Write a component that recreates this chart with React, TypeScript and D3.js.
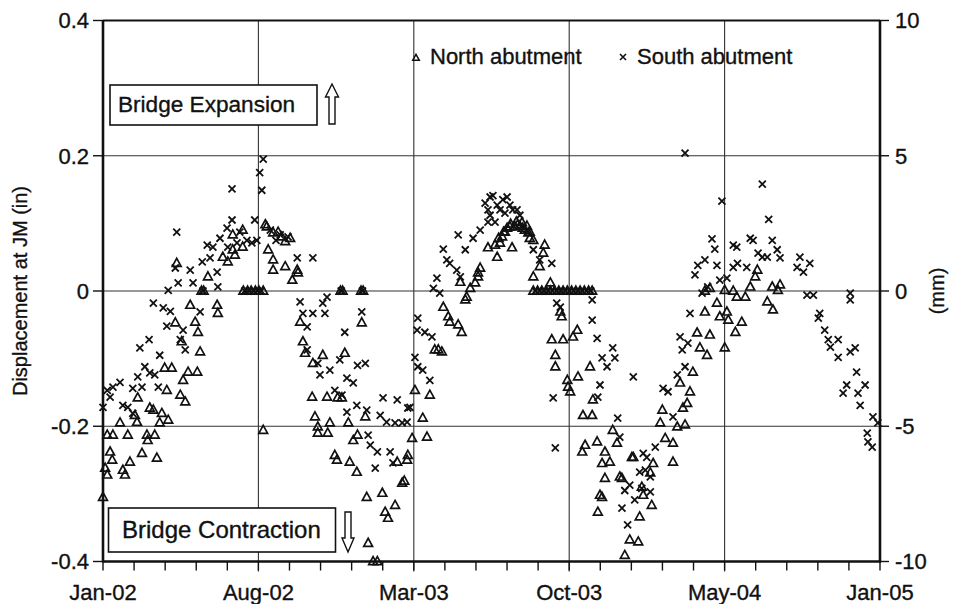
import React from 'react';
import * as d3 from 'd3';

// Horizontal axis: days counted from 1 Jan 2002, running to 1 Jan 2005
const SPAN_DAYS = 1096;
const xTickLabels = ['Jan-02', 'Aug-02', 'Mar-03', 'Oct-03', 'May-04', 'Jan-05'];
const minorPerMajor = 5;

const yTicksIn = [0.4, 0.2, 0, -0.2, -0.4];
const yTickLabelsIn = ['0.4', '0.2', '0', '-0.2', '-0.4'];
const yTicksMm = [10, 5, 0, -5, -10];
const yGridIn = [0.2, 0, -0.2];

const seriesNames = ['North abutment', 'South abutment'];

// [day since 1 Jan 2002, displacement in inches]
const northAbutment: [number, number][] = [
  [0, -0.305], [3, -0.262], [6, -0.272], [6, -0.213], [10, -0.238], [13, -0.25], [14, -0.213], [24, -0.195],
  [28, -0.265], [31, -0.272], [35, -0.213], [38, -0.253], [45, -0.184], [48, -0.194], [49, -0.158], [55, -0.24],
  [62, -0.213], [63, -0.221], [66, -0.173], [71, -0.176], [73, -0.213], [76, -0.247], [80, -0.195], [83, -0.181],
  [87, -0.114], [90, -0.147], [92, -0.191], [97, -0.114], [102, -0.047], [104, 0.041], [109, -0.154], [111, -0.075],
  [113, -0.132], [116, -0.164], [120, -0.12], [123, -0.021], [130, -0.046], [133, -0.12], [134, -0.061], [137, -0.09],
  [139, 0], [142, 0], [148, 0.021], [161, -0.021], [162, -0.033], [169, 0.05], [176, 0.043], [183, 0.083],
  [183, 0.061], [186, 0.053], [197, 0.09], [197, 0.065], [198, 0], [204, 0], [209, 0], [215, 0], [220, 0], [226, 0],
  [226, -0.206], [229, 0.098], [231, 0.095], [233, 0.061], [240, 0.086], [240, 0.046], [240, 0.031], [247, 0.087],
  [252, 0.08], [257, 0.073], [257, 0.036], [264, 0.078], [267, 0.016], [274, 0.031], [275, 0.027], [278, -0.046],
  [282, -0.075], [285, -0.092], [295, -0.157], [296, -0.107], [299, -0.186], [303, -0.201], [303, -0.21], [310, -0.095],
  [316, -0.157], [317, -0.21], [320, -0.195], [327, -0.243], [330, -0.25], [331, -0.158], [335, 0], [337, -0.158],
  [338, 0], [341, -0.092], [346, -0.195], [348, -0.253], [353, -0.221], [358, -0.268], [359, -0.213], [364, 0],
  [365, -0.047], [367, 0], [370, -0.186], [372, -0.305], [374, -0.373], [381, -0.4], [387, -0.4], [394, -0.299],
  [398, -0.327], [402, -0.336], [412, -0.317], [415, -0.253], [422, -0.284], [425, -0.281], [429, -0.25], [430, -0.243],
  [436, -0.218], [440, -0.147], [451, -0.188], [457, -0.216], [461, -0.154], [468, -0.087], [473, -0.087], [478, -0.09],
  [480, -0.024], [487, -0.038], [489, -0.046], [501, -0.05], [504, 0.013], [506, -0.061], [511, -0.013], [513, -0.009],
  [518, 0.004], [525, 0.012], [529, 0.021], [529, 0.027], [532, 0.034], [543, 0.064], [553, 0.068], [556, 0.05],
  [558, 0.078], [560, 0.071], [563, 0.08], [565, 0.087], [567, 0.087], [570, 0.093], [574, 0.095], [575, 0.099],
  [577, 0.064], [581, 0.095], [583, 0.102], [585, 0.098], [588, 0.096], [591, 0.101], [592, 0.093], [595, 0.09],
  [598, 0.096], [600, 0.086], [602, 0.078], [602, 0.087], [607, 0.021], [607, 0.075], [607, 0], [613, 0],
  [616, 0.036], [619, 0], [621, 0.056], [623, 0.068], [625, 0], [631, 0.012], [631, 0], [633, -0.072], [637, 0],
  [638, -0.095], [638, -0.112], [643, 0], [645, -0.031], [647, -0.038], [649, -0.072], [649, 0], [655, -0.132],
  [655, 0], [656, -0.142], [659, -0.149], [661, 0], [663, -0.068], [667, 0], [669, -0.058], [670, -0.127], [673, 0],
  [676, -0.238], [677, -0.184], [679, 0], [680, -0.228], [685, 0], [687, -0.112], [690, -0.184], [690, 0],
  [691, -0.161], [697, -0.223], [698, -0.327], [701, -0.302], [704, -0.255], [704, -0.305], [708, -0.238], [708, -0.277],
  [715, -0.253], [719, -0.206], [725, -0.225], [729, -0.275], [732, -0.277], [736, -0.391], [743, -0.368], [746, -0.246],
  [748, -0.246], [755, -0.371], [757, -0.334], [760, -0.29], [762, -0.302], [772, -0.269], [774, -0.317], [776, -0.255],
  [786, -0.195], [789, -0.176], [793, -0.218], [804, -0.225], [804, -0.253], [810, -0.201], [814, -0.136], [818, -0.173],
  [821, -0.198], [824, -0.166], [828, -0.149], [832, -0.12], [838, -0.062], [842, -0.084], [849, -0.031], [849, 0],
  [852, -0.095], [856, 0.004], [856, -0.065], [866, -0.018], [870, -0.038], [877, 0.001], [877, -0.084], [880, -0.031],
  [882, -0.043], [889, 0], [892, -0.061], [894, -0.009], [901, -0.046], [906, -0.009], [913, 0.006], [920, 0.021],
  [923, 0.031], [937, -0.016], [944, 0.006], [945, -0.028], [952, 0.001], [955, 0.009],
];

const southAbutment: [number, number][] = [
  [0, -0.172], [6, -0.147], [10, -0.157], [14, -0.142], [24, -0.135], [28, -0.169], [35, -0.172], [42, -0.144],
  [42, -0.181], [49, -0.127], [52, -0.084], [55, -0.142], [59, -0.112], [65, -0.072], [66, -0.121], [71, -0.018],
  [73, -0.124], [78, -0.142], [80, -0.095], [85, -0.025], [90, -0.052], [92, 0.001], [95, -0.03], [102, 0.034],
  [104, 0.087], [106, 0.012], [109, -0.072], [113, -0.058], [116, -0.087], [123, 0.031], [127, 0.012], [137, -0.031],
  [140, 0.043], [141, 0], [147, 0.068], [151, 0.049], [155, 0.065], [161, 0.028], [162, 0.006], [165, 0.078],
  [175, 0.093], [176, 0.065], [182, 0.151], [182, 0.105], [189, 0.071], [193, 0.087], [200, 0], [203, 0.075],
  [206, 0], [210, 0.071], [212, 0], [214, 0.105], [217, 0.075], [218, 0], [221, 0.175], [223, 0], [224, 0.149],
  [226, 0.195], [236, 0.09], [244, 0.075], [250, 0.083], [261, 0.08], [274, 0.049], [278, -0.016], [282, -0.033],
  [288, -0.053], [288, -0.087], [296, 0.049], [296, -0.033], [303, -0.107], [306, -0.124], [310, -0.018], [313, -0.033],
  [316, -0.009], [320, -0.117], [327, -0.147], [334, -0.102], [336, 0], [337, -0.154], [341, -0.061], [344, -0.129],
  [344, -0.179], [353, -0.136], [358, -0.169], [359, -0.11], [365, -0.031], [366, 0], [370, -0.107], [372, -0.176],
  [374, -0.213], [377, -0.228], [384, -0.262], [387, -0.238], [391, -0.184], [395, -0.158], [400, -0.194], [405, -0.238],
  [409, -0.254], [412, -0.195], [415, -0.161], [422, -0.195], [429, -0.194], [430, -0.173], [433, -0.172], [440, -0.098],
  [443, -0.058], [444, -0.04], [444, -0.112], [451, -0.117], [454, -0.061], [461, -0.132], [464, -0.068], [466, 0.004],
  [471, 0.019], [475, -0.003], [480, 0.062], [485, 0.046], [489, 0.041], [499, 0.031], [501, 0.083], [504, 0.021],
  [511, 0.061], [522, 0.078], [532, 0.09], [539, 0.13], [543, 0.12], [543, 0.102], [546, 0.139], [546, 0.112],
  [550, 0.141], [553, 0.102], [556, 0.127], [560, 0.12], [564, 0.135], [567, 0.115], [570, 0.139], [574, 0.127],
  [578, 0.12], [584, 0.12], [588, 0.112], [598, 0.09], [607, 0.061], [610, 0], [616, 0.046], [616, 0], [622, 0],
  [628, 0], [633, 0.041], [634, 0], [635, -0.158], [638, -0.232], [640, -0.018], [640, 0], [645, -0.024], [646, 0],
  [652, 0], [658, 0], [664, 0], [670, 0], [676, 0], [682, 0], [688, 0], [690, -0.013], [690, -0.043], [697, -0.07],
  [698, -0.157], [701, -0.139], [704, -0.099], [711, -0.112], [719, -0.084], [722, -0.099], [726, -0.188], [729, -0.216],
  [732, -0.321], [736, -0.295], [740, -0.346], [743, -0.287], [748, -0.127], [750, -0.309], [757, -0.268], [760, -0.292],
  [762, -0.24], [765, -0.265], [767, -0.246], [772, -0.275], [772, -0.297], [779, -0.231], [790, -0.144], [797, -0.149],
  [804, -0.186], [810, -0.124], [814, -0.068], [817, -0.087], [821, -0.112], [821, 0.204], [825, -0.077], [828, -0.033],
  [835, 0.024], [839, 0.038], [845, -0.003], [849, 0.046], [853, 0.006], [859, 0.077], [863, 0.062], [866, 0.038],
  [870, 0.016], [873, 0.133], [880, 0.019], [889, 0.068], [889, 0.035], [894, 0.065], [895, 0.041], [908, 0.035],
  [913, 0.078], [917, 0.075], [924, 0.056], [930, 0.158], [930, 0.05], [937, 0.05], [939, 0.106], [944, 0.075],
  [951, 0.061], [955, 0.049], [979, 0.035], [983, 0.05], [988, 0.028], [993, -0.006], [997, 0.041], [1002, -0.006],
  [1009, -0.04], [1011, -0.033], [1018, -0.058], [1023, -0.072], [1026, -0.083], [1037, -0.072], [1037, -0.098],
  [1044, -0.151], [1049, -0.139], [1054, -0.003], [1054, -0.013], [1054, -0.09], [1061, -0.084], [1063, -0.12],
  [1065, -0.151], [1068, -0.169], [1075, -0.139], [1078, -0.21], [1079, -0.223], [1085, -0.231], [1086, -0.186],
  [1093, -0.195],
];

const W = 957;
const H = 604;
const plot = { left: 103, right: 880, top: 20.5, bottom: 561.5 };
const FONT = "'Liberation Sans', Arial, Helvetica, sans-serif";
const INK = '#111';

const trianglePath = (s: number) =>
  `M0,${-s * 0.62}L${s * 0.55},${s * 0.38}L${-s * 0.55},${s * 0.38}Z`;
const crossPath = (s: number) => `M${-s},${-s}L${s},${s}M${-s},${s}L${s},${-s}`;

const upArrow = (cx: number, top: number, headEnd: number, bottom: number, hw: number, sw: number) =>
  `M${cx},${top}L${cx + hw},${headEnd}L${cx + sw},${headEnd}L${cx + sw},${bottom}L${cx - sw},${bottom}L${cx - sw},${headEnd}L${cx - hw},${headEnd}Z`;
const downArrow = (cx: number, top: number, headStart: number, bottom: number, hw: number, sw: number) =>
  `M${cx - sw},${top}L${cx + sw},${top}L${cx + sw},${headStart}L${cx + hw},${headStart}L${cx},${bottom}L${cx - hw},${headStart}L${cx - sw},${headStart}Z`;

// slight outline so the lettering carries the same weight as the printed figure
const textInk = { fill: INK, stroke: INK, strokeWidth: 0.35 };

export default function App() {
  const x = d3.scaleLinear().domain([0, SPAN_DAYS]).range([plot.left, plot.right]);
  const y = d3.scaleLinear().domain([-0.4, 0.4]).range([plot.bottom, plot.top]);
  const yMm = d3.scaleLinear().domain([-10, 10]).range([plot.bottom, plot.top]);

  const nMajor = xTickLabels.length - 1;
  const majorDays = xTickLabels.map((_, i) => (i * SPAN_DAYS) / nMajor);
  const minorDays = d3.range(nMajor * minorPerMajor + 1).map((i) => (i * SPAN_DAYS) / (nMajor * minorPerMajor));

  const tri = trianglePath(8);
  const cross = crossPath(3.5);

  return (
    <svg
      width={W}
      height={H}
      viewBox={`0 0 ${W} ${H}`}
      style={{ position: 'absolute', left: 0, top: 0, background: '#fff' }}
      fontFamily={FONT}
    >
      <rect x={0} y={0} width={W} height={H} fill="#fff" />

      {/* grid */}
      <g stroke="#333" strokeWidth={1.1}>
        {yGridIn.map((v) => (
          <line key={`gy${v}`} x1={plot.left} x2={plot.right} y1={y(v)} y2={y(v)} />
        ))}
        {majorDays.slice(1, -1).map((d, i) => (
          <line key={`gx${i}`} x1={x(d)} x2={x(d)} y1={plot.top} y2={plot.bottom + 10} />
        ))}
      </g>

      {/* frame */}
      <line x1={plot.left} x2={plot.right} y1={plot.top} y2={plot.top} stroke={INK} strokeWidth={2} />
      <line x1={plot.left} x2={plot.left} y1={plot.top} y2={plot.bottom + 1} stroke={INK} strokeWidth={2.6} />
      <line x1={plot.right} x2={plot.right} y1={plot.top} y2={plot.bottom + 1} stroke={INK} strokeWidth={2.6} />
      <line x1={plot.left} x2={plot.right + 1} y1={plot.bottom} y2={plot.bottom} stroke={INK} strokeWidth={2.6} />

      {/* x ticks */}
      <g stroke={INK} strokeWidth={1.4}>
        {minorDays.map((d, i) => (
          <line key={`mx${i}`} x1={x(d)} x2={x(d)} y1={plot.bottom} y2={plot.bottom + 9} />
        ))}
      </g>
      <g fontSize={22} textAnchor="middle" {...textInk}>
        {xTickLabels.map((t, i) => (
          <text key={t} x={x(majorDays[i])} y={600}>
            {t}
          </text>
        ))}
      </g>

      {/* left axis */}
      <g stroke={INK} strokeWidth={1.4}>
        {yTicksIn.map((v) => (
          <line key={`ly${v}`} x1={plot.left - 10} x2={plot.left} y1={y(v)} y2={y(v)} />
        ))}
      </g>
      <g fontSize={22} textAnchor="end" {...textInk}>
        {yTicksIn.map((v, i) => (
          <text key={`lt${v}`} x={89} y={y(v)} dy="0.36em">
            {yTickLabelsIn[i]}
          </text>
        ))}
      </g>
      <text transform={`translate(27,${y(0)}) rotate(-90)`} textAnchor="middle" fontSize={20} {...textInk}>
        Displacement at JM (in)
      </text>

      {/* right axis */}
      <g stroke={INK} strokeWidth={1.4}>
        {yTicksMm.map((v) => (
          <line key={`ry${v}`} x1={plot.right} x2={plot.right + 9} y1={yMm(v)} y2={yMm(v)} />
        ))}
      </g>
      <g fontSize={22} textAnchor="start" {...textInk}>
        {yTicksMm.map((v) => (
          <text key={`rt${v}`} x={895} y={yMm(v)} dy="0.36em">
            {v}
          </text>
        ))}
      </g>
      <text transform={`translate(944,${yMm(0)}) rotate(-90)`} textAnchor="middle" fontSize={20} {...textInk}>
        (mm)
      </text>

      {/* data */}
      <g fill="none" stroke={INK} strokeWidth={1.8}>
        {southAbutment.map(([d, v], i) => (
          <path key={`s${i}`} d={cross} transform={`translate(${x(d)},${y(v)})`} />
        ))}
      </g>
      <g fill="none" stroke={INK} strokeWidth={1.7} strokeLinejoin="miter">
        {northAbutment.map(([d, v], i) => (
          <path key={`n${i}`} d={tri} transform={`translate(${x(d)},${y(v)})`} />
        ))}
      </g>

      {/* legend */}
      <g fontSize={22}>
        <path d={trianglePath(6)} transform="translate(416,58)" fill="none" stroke={INK} strokeWidth={1.5} />
        <text x={430} y={64} {...textInk}>{seriesNames[0]}</text>
        <path d={crossPath(3)} transform="translate(623,57)" fill="none" stroke={INK} strokeWidth={1.6} />
        <text x={637} y={64} {...textInk}>{seriesNames[1]}</text>
      </g>

      {/* annotations */}
      <rect x={110} y={85} width={207} height={40} fill="#fff" stroke={INK} strokeWidth={1.6} />
      <text x={118} y={112} fontSize={22.6} {...textInk}>
        Bridge Expansion
      </text>
      <path d={upArrow(332, 84, 97, 124, 6.5, 3)} fill="#fff" stroke={INK} strokeWidth={1.4} />

      <rect x={108.5} y={508} width={227} height={44} fill="#fff" stroke={INK} strokeWidth={1.6} />
      <text x={122} y={537.5} fontSize={24} {...textInk}>
        Bridge Contraction
      </text>
      <path d={downArrow(348, 512, 538, 552, 6, 3)} fill="#fff" stroke={INK} strokeWidth={1.4} />
    </svg>
  );
}
